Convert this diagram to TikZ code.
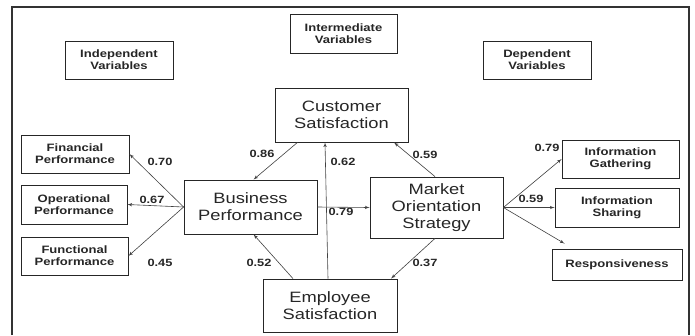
\documentclass[tikz,border=0pt]{standalone}
\usepackage{fontspec}
\setmainfont{Liberation Sans}[FakeStretch=1.22]
\usetikzlibrary{positioning,arrows}
\tikzstyle{varbox} = [draw=black!85, line width=0.8pt, rectangle, align=center, inner sep=0pt, text=black!85, font=\fontsize{10.7}{12.3}\selectfont\bfseries]
\tikzstyle{bigbox} = [draw=black!85, line width=0.8pt, rectangle, align=center, inner sep=0pt, text=black!85, font=\fontsize{15}{17}\selectfont]
\tikzstyle{wt} = [inner sep=0pt, text=black!85, font=\fontsize{10.5}{12}\selectfont\bfseries]
\tikzstyle{link} = [->, draw=black!75, line width=0.6pt]
\begin{document}
\begin{tikzpicture}[x=1pt, y=-1pt, >=latex']
		\useasboundingbox (0,0) rectangle (695,335);
		\draw [line width=1.1pt, black!80] (12,335) -- (12,7) -- (689,7) -- (689,335);

		\node (indep) [varbox, minimum width=108pt, minimum height=38pt] at (119,60) {Independent\\Variables};
		\node (inter) [varbox, minimum width=107pt, minimum height=39pt] at (343.5,33.5) {Intermediate\\Variables};
		\node (dep) [varbox, minimum width=108pt, minimum height=38pt] at (537,60) {Dependent\\Variables};

		\node (cust) [bigbox, minimum width=133pt, minimum height=54pt] at (341.5,115) {Customer\\Satisfaction};
		\node (bus) [bigbox, minimum width=133pt, minimum height=54pt] at (250.5,207) {Business\\Performance};
		\node (mos) [bigbox, minimum width=133pt, minimum height=61pt] at (436.5,207.5) {Market\\Orientation\\Strategy};
		\node (emp) [bigbox, minimum width=134pt, minimum height=53pt] at (330,305.5) {Employee\\Satisfaction};

		\node (fin) [varbox, minimum width=108pt, minimum height=38pt] at (75,154) {Financial\\Performance};
		\node (oper) [varbox, minimum width=106pt, minimum height=39pt] at (74,204.5) {Operational\\Performance};
		\node (func) [varbox, minimum width=107pt, minimum height=38pt] at (74.5,256) {Functional\\Performance};

		\node (gath) [varbox, minimum width=117pt, minimum height=38pt] at (620.5,159) {Information\\Gathering};
		\node (shar) [varbox, minimum width=124pt, minimum height=39pt] at (617,207.5) {Information\\Sharing};
		\node (resp) [varbox, minimum width=130pt, minimum height=31pt] at (617,264.5) {Responsiveness};

		% weights
		\node (w70) [wt] at (160,162) {0.70};
		\node (w67) [wt] at (152,200) {0.67};
		\node (w45) [wt] at (160,263) {0.45};
		\node (w86) [wt] at (262,154) {0.86};
		\node (w62) [wt] at (343,162) {0.62};
		\node (w52) [wt] at (259,263) {0.52};
		\node (w79a) [wt] at (341,212) {0.79};
		\node (w59a) [wt] at (425,155) {0.59};
		\node (w37) [wt] at (425,263) {0.37};
		\node (w79b) [wt] at (547,148) {0.79};
		\node (w59b) [wt] at (531,199) {0.59};

		\draw [link] (bus.west) -- (fin.east);
		\draw [link] (bus.west) -- (oper.east);
		\draw [link] (bus.west) -- (func.east);

		\draw [link] ([xshift=-44pt]cust.south) -- ([xshift=3pt]bus.north);
		\draw [link] ([xshift=-2pt]emp.north) -- ([xshift=-16.5pt]cust.south);
		\draw [link] ([xshift=-37pt]emp.north) -- ([xshift=3pt]bus.south);
		\draw [link] (bus.east) -- (mos.west);
		\draw [link] ([xshift=-1.5pt]mos.north) -- ([xshift=52.5pt]cust.south);
		\draw [link] ([xshift=-1.5pt]mos.south) -- ([xshift=61pt]emp.north);

		\draw [link] (mos.east) -- (gath.west);
		\draw [link] (mos.east) -- (shar.west);
		\draw [link] (mos.east) -- ([shift={(13,-5)}]resp.north west);
	\end{tikzpicture}
\end{document}
